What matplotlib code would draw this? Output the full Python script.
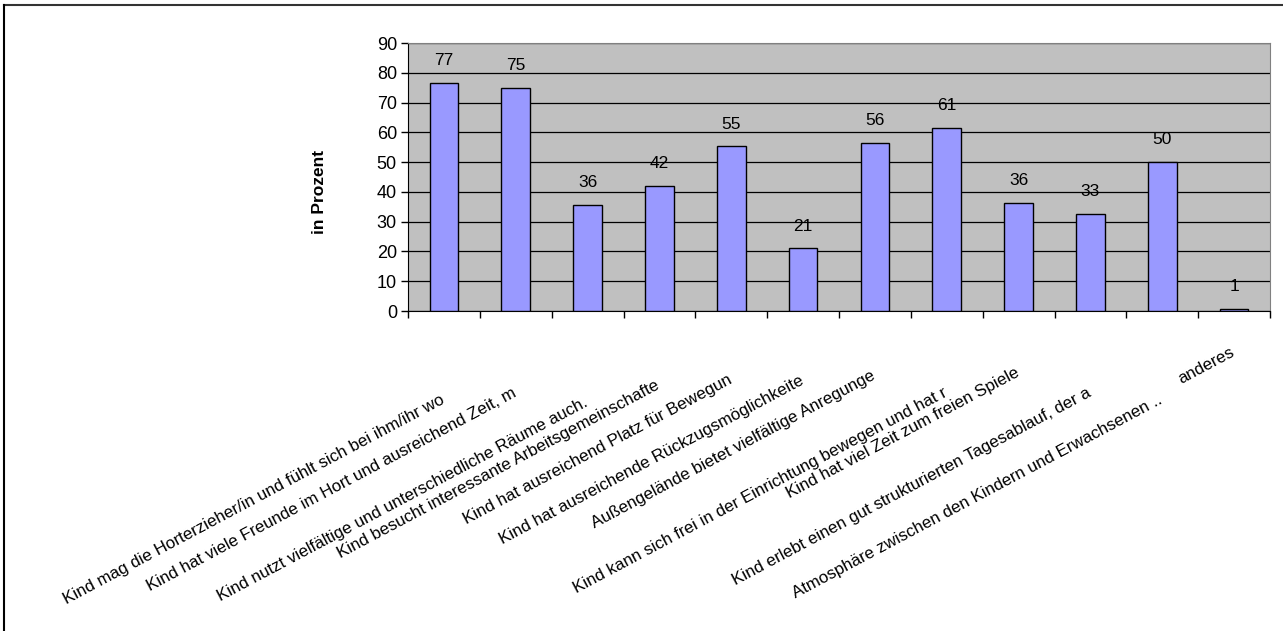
import matplotlib.pyplot as plt
from matplotlib.lines import Line2D

# Werte (in Prozent)
categories = [
    "Kind mag die Horterzieher/in und fühlt sich bei ihm/ihr wo",
    "Kind hat viele Freunde im Hort und ausreichend Zeit, m",
    "Kind nutzt vielfältige und unterschiedliche Räume auch.",
    "Kind besucht interessante Arbeitsgemeinschafte",
    "Kind hat ausreichend Platz für Bewegun",
    "Kind hat ausreichende Rückzugsmöglichkeite",
    "Außengelände bietet vielfältige Anregunge",
    "Kind kann sich frei in der Einrichtung bewegen und hat r",
    "Kind hat viel Zeit zum freien Spiele",
    "Kind erlebt einen gut strukturierten Tagesablauf, der a",
    "Atmosphäre zwischen den Kindern und Erwachsenen ..",
    "anderes",
]
values = [76.7, 74.9, 35.6, 42.0, 55.3, 21.0, 56.4, 61.4, 36.3, 32.6, 50.1, 0.7]
yticks = [0, 10, 20, 30, 40, 50, 60, 70, 80, 90]

# Abstand der Beschriftungsenden unter der x-Achse (Pixel)
label_drop = [81, 74, 84, 67, 61, 62, 57, 74, 54, 74, 81, 34]

plt.rcParams['font.family'] = ['Liberation Sans', 'DejaVu Sans']

dpi = 100
fig = plt.figure(figsize=(12.83, 6.31), dpi=dpi)
ax = fig.add_axes([408 / 1283, 1 - 311 / 631, 862 / 1283, 268 / 631])
ax.set_facecolor('#C0C0C0')

x = list(range(len(values)))
ax.bar(x, values, width=0.4, color='#9999FF', edgecolor='black', linewidth=1.0, zorder=3)

for xi, v in zip(x, values):
    ax.annotate(f"{round(v)}", (xi, v), xytext=(0, 16), textcoords='offset points',
                ha='center', va='center', fontsize=12.5, zorder=4)

ax.set_xlim(-0.5, len(values) - 0.5)
ax.set_ylim(0, 90)
ax.set_yticks(yticks)
ax.tick_params(axis='y', labelsize=13, length=5, width=1, direction='out', pad=3)
ax.yaxis.grid(True, color='black', linewidth=0.9, zorder=1)
ax.set_axisbelow(True)

# Kategoriegrenzen als Ticks
ax.set_xticks([i - 0.5 for i in range(len(values) + 1)])
ax.set_xticklabels([])
ax.tick_params(axis='x', length=5, width=1, direction='out')

for side in ['top', 'right']:
    ax.spines[side].set_color('#808080')
for side in ['left', 'bottom']:
    ax.spines[side].set_color('black')

for xi, name, drop in zip(x, categories, label_drop):
    ax.annotate(name, (xi, 0), xycoords=('data', 'axes fraction'),
                xytext=(-3, -drop * 72 / dpi), textcoords='offset points',
                ha='right', va='top', rotation=28, rotation_mode='anchor',
                fontsize=12.2)

fig.text(320 / 1283, 1 - 192 / 631, "in Prozent", rotation=90, ha='center', va='center',
         fontsize=12.5, fontweight='bold')

# Rahmen oben und links
fig.add_artist(Line2D([4 / 1283, 1], [1 - 5 / 631, 1 - 5 / 631], color='#333333', linewidth=1.5))
fig.add_artist(Line2D([4 / 1283, 4 / 1283], [0, 1 - 5 / 631], color='black', linewidth=1.5))

fig.savefig('out.png', dpi=dpi)
